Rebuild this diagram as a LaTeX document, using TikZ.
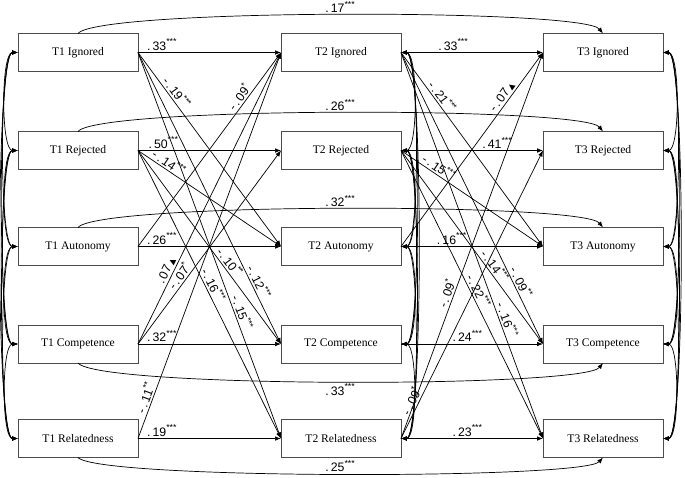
\documentclass[tikz,border=0pt]{standalone}
\usepackage{fontspec}
\setmainfont{Liberation Serif}
\newfontfamily\labfont{Liberation Sans}
\newfontfamily\symfont{DejaVu Sans}
\usepackage {tikz}
\usetikzlibrary {positioning,arrows.meta}
\newcommand{\margsig}{{\symfont\fontsize{4.5}{5}\selectfont ▲}}

\begin{document}
\begin{tikzpicture}[x=0.02cm,y=-0.02cm,->,>={Latex[length=3.4pt,width=2.6pt]}]
  \tikzstyle{var}=[rectangle, draw=black!70, fill=white, minimum width=2.4cm,
minimum height=0.76cm, inner sep=0pt, outer sep=0pt, font=\fontsize{6.6}{8}\selectfont]
  \tikzstyle{coef}=[font=\labfont\fontsize{7}{8}\selectfont, inner sep=1pt]
  \tikzstyle{covl}=[<->, out=180, in=180]
  \tikzstyle{covr}=[<->, out=0, in=0]
  \useasboundingbox (0,0) rectangle (685,477);

  \node[var] (T1_1) at (78,52.5) {T1 Ignored};
  \node[var] (T1_2) at (78,150.5) {T1 Rejected};
  \node[var] (T1_3) at (78,246.5) {T1 Autonomy};
  \node[var] (T1_4) at (78,344) {T1 Competence};
  \node[var] (T1_5) at (78,438.5) {T1 Relatedness};
  \node[var] (T2_1) at (341,52.5) {T2 Ignored};
  \node[var] (T2_2) at (341,150.5) {T2 Rejected};
  \node[var] (T2_3) at (341,246.5) {T2 Autonomy};
  \node[var] (T2_4) at (341,344) {T2 Competence};
  \node[var] (T2_5) at (341,438.5) {T2 Relatedness};
  \node[var] (T3_1) at (603,52.5) {T3 Ignored};
  \node[var] (T3_2) at (603,150.5) {T3 Rejected};
  \node[var] (T3_3) at (603,246.5) {T3 Autonomy};
  \node[var] (T3_4) at (603,344) {T3 Competence};
  \node[var] (T3_5) at (603,438.5) {T3 Relatedness};

  % T1 -> T3
  \draw (T1_1.north) .. controls +(20,-25) and +(-20,-25) .. (T3_1.north) node[coef,midway,above] (a1) {.\,17\textsuperscript{***}};
  \draw (T1_2.north) .. controls +(20,-25) and +(-20,-25) .. (T3_2.north) node[coef,midway,above] (a2) {.\,26\textsuperscript{***}};
  \draw (T1_3.north) .. controls +(20,-25) and +(-20,-25) .. (T3_3.north) node[coef,midway,above] (a3) {.\,32\textsuperscript{***}};
  \draw (T1_4.south) .. controls +(20,25) and +(-20,25) .. (T3_4.south) node[coef,midway,below] (a4) {.\,33\textsuperscript{***}};
  \draw (T1_5.south) .. controls +(20,22) and +(-20,22) .. (T3_5.south) node[coef,midway,above] (a5) {.\,25\textsuperscript{***}};

  % T1 -> T2
  \draw (T1_1.east) -- (T2_1.west) node[coef,pos=.17,above] (b1) {.\,33\textsuperscript{***}};
  \draw (T1_1.east) -- (T2_3.west) node[coef,pos=.23,sloped,above] (b2) {-\,.\,19\textsuperscript{***}};
  \draw (T1_1.east) -- (T2_4.west) node[coef,pos=.80,sloped,above] (b3) {-\,.\,12\textsuperscript{***}};
  \draw (T1_1.east) -- (T2_5.west) node[coef,pos=.68,sloped,above] (b4) {-\,.\,15\textsuperscript{***}};
  \draw (T1_2.east) -- (T2_2.west) node[coef,pos=.18,above] (b5) {.\,50\textsuperscript{***}};
  \draw (T1_2.east) -- (T2_3.west) node[coef,pos=.19,sloped,above] (b6) {-\,.\,14\textsuperscript{***}};
  \draw (T1_2.east) -- (T2_4.west) node[coef,pos=.60,sloped,above] (b7) {-\,.\,10\textsuperscript{**}};
  \draw (T1_2.east) -- (T2_5.west) node[coef,pos=.48,sloped,above] (b8) {-\,.\,16\textsuperscript{***}};
  \draw (T1_3.east) -- (T2_3.west) node[coef,pos=.17,above] (b9) {.\,26\textsuperscript{***}};
  \draw (T1_3.east) -- (T2_1.west) node[coef,pos=.75,sloped,above] (b10) {-\,.\,09\textsuperscript{*}};
  \draw (T1_4.east) -- (T2_4.west) node[coef,pos=.17,above] (b11) {.\,32\textsuperscript{***}};
  \draw (T1_4.east) -- (T2_1.west) node[coef,pos=.24,sloped,above] (b12) {.\,07\,\margsig};
  \draw (T1_4.east) -- (T2_2.west) node[coef,pos=.33,sloped,above] (b13) {-\,.\,07\textsuperscript{*}};
  \draw (T1_5.east) -- (T2_5.west) node[coef,pos=.17,above] (b14) {.\,19\textsuperscript{***}};
  \draw (T1_5.east) -- (T2_1.west) node[coef,pos=.10,sloped,above] (b15) {-\,.\,11\textsuperscript{**}};

  % T2 -> T3
  \draw (T2_1.east) -- (T3_1.west) node[coef,pos=.37,above] (c1) {.\,33\textsuperscript{***}};
  \draw (T2_1.east) -- (T3_3.west) node[coef,pos=.25,sloped,above] (c2) {-\,.\,21\textsuperscript{***}};
  \draw (T2_1.east) -- (T3_4.west) node[coef,pos=.80,sloped,above] (c3) {-\,.\,09\textsuperscript{**}};
  \draw (T2_1.east) -- (T3_5.west) node[coef,pos=.70,sloped,above] (c4) {-\,.\,16\textsuperscript{***}};
  \draw (T2_2.east) -- (T3_2.west) node[coef,pos=.68,above] (c5) {.\,41\textsuperscript{***}};
  \draw (T2_2.east) -- (T3_3.west) node[coef,pos=.24,sloped,above] (c6) {-\,.\,15\textsuperscript{***}};
  \draw (T2_2.east) -- (T3_4.west) node[coef,pos=.62,sloped,above] (c7) {-\,.\,14\textsuperscript{***}};
  \draw (T2_2.east) -- (T3_5.west) node[coef,pos=.50,sloped,above] (c8) {-\,.\,22\textsuperscript{***}};
  \draw (T2_3.east) -- (T3_3.west) node[coef,pos=.36,above] (c9) {.\,16\textsuperscript{***}};
  \draw (T2_3.east) -- (T3_1.west) node[coef,pos=.75,sloped,above] (c10) {-\,.\,07\,\margsig};
  \draw (T2_4.east) -- (T3_4.west) node[coef,pos=.47,above] (c11) {.\,24\textsuperscript{***}};
  \draw (T2_5.east) -- (T3_5.west) node[coef,pos=.47,above] (c12) {.\,23\textsuperscript{***}};
  \draw (T2_5.east) -- (T3_1.west) node[coef,pos=.37,sloped,above] (c13) {-\,.\,09\textsuperscript{*}};
  \draw (T2_5.east) -- (T3_2.west) node[coef,pos=.12,sloped,above] (c14) {-\,.\,09\textsuperscript{*}};

  % covariances T1
  \draw[covl,looseness=.45] (T1_1.west) to (T1_2.west);
  \draw[covl,looseness=.45] (T1_2.west) to (T1_3.west);
  \draw[covl,looseness=.45] (T1_3.west) to (T1_4.west);
  \draw[covl,looseness=.45] (T1_4.west) to (T1_5.west);
  \draw[covl,looseness=.25] (T1_1.west) to (T1_3.west);
  \draw[covl,looseness=.25] (T1_2.west) to (T1_4.west);
  \draw[covl,looseness=.25] (T1_3.west) to (T1_5.west);
  \draw[covl,looseness=.18] (T1_1.west) to (T1_4.west);
  \draw[covl,looseness=.18] (T1_2.west) to (T1_5.west);
  \draw[covl,looseness=.15] (T1_1.west) to (T1_5.west);

  % covariances T2
  \draw[covr,looseness=.45] (T2_1.east) to (T2_2.east);
  \draw[covr,looseness=.45] (T2_2.east) to (T2_3.east);
  \draw[covr,looseness=.45] (T2_3.east) to (T2_4.east);
  \draw[covr,looseness=.45] (T2_4.east) to (T2_5.east);
  \draw[covr,looseness=.25] (T2_1.east) to (T2_3.east);
  \draw[covr,looseness=.25] (T2_2.east) to (T2_4.east);
  \draw[covr,looseness=.25] (T2_3.east) to (T2_5.east);
  \draw[covr,looseness=.18] (T2_1.east) to (T2_4.east);
  \draw[covr,looseness=.18] (T2_2.east) to (T2_5.east);
  \draw[covr,looseness=.15] (T2_1.east) to (T2_5.east);

  % covariances T3
  \draw[covr,looseness=.45] (T3_1.east) to (T3_2.east);
  \draw[covr,looseness=.45] (T3_2.east) to (T3_3.east);
  \draw[covr,looseness=.45] (T3_3.east) to (T3_4.east);
  \draw[covr,looseness=.45] (T3_4.east) to (T3_5.east);
  \draw[covr,looseness=.25] (T3_1.east) to (T3_3.east);
  \draw[covr,looseness=.25] (T3_2.east) to (T3_4.east);
  \draw[covr,looseness=.25] (T3_3.east) to (T3_5.east);
  \draw[covr,looseness=.18] (T3_1.east) to (T3_4.east);
  \draw[covr,looseness=.18] (T3_2.east) to (T3_5.east);
  \draw[covr,looseness=.15] (T3_1.east) to (T3_5.east);
\end{tikzpicture}
\end{document}
